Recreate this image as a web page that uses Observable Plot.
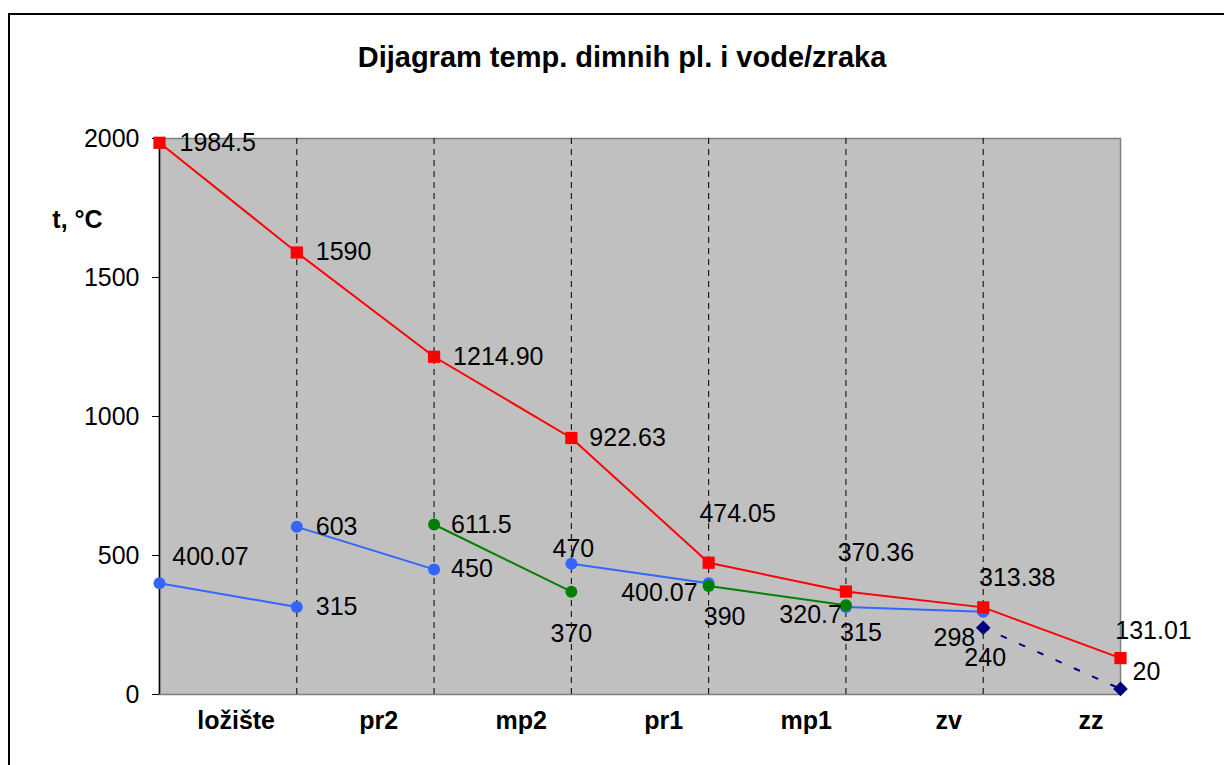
<!DOCTYPE html>
<html>
<head>
<meta charset="utf-8">
<script src="https://cdn.jsdelivr.net/npm/d3@7"></script>
<script src="https://cdn.jsdelivr.net/npm/@observablehq/plot@0.6"></script>
<style>
  html, body { margin: 0; padding: 0; background: #fff; overflow: hidden; }
  #page { position: relative; width: 1224px; height: 765px; overflow: hidden; font-family: "Liberation Sans", Arial, sans-serif; }
  #border { position: absolute; left: 8px; top: 13px; width: 1400px; height: 900px; border: 2px solid #000; box-sizing: border-box; }
  #title { position: absolute; left: 622px; top: 41px; transform: translateX(-50%); font-size: 29px; font-weight: bold; line-height: 32px; white-space: nowrap; color: #000; }
  #chart { position: absolute; left: 0; top: 0; }
</style>
</head>
<body>
<div id="page">
  <div id="border"></div>
  <div id="chart"></div>
  <div id="title">Dijagram temp. dimnih pl. i vode/zraka</div>
</div>
<script>
// ---- data ----
const categories = ["ložište", "pr2", "mp2", "pr1", "mp1", "zv", "zz"];
const yTicks = [0, 500, 1000, 1500, 2000];
const yLabel = "t, °C";

// flue gas temperatures at section boundaries 0..7
const flueGas = [1984.5, 1590, 1214.90, 922.63, 474.05, 370.36, 313.38, 131.01];
const flueGasLabels = ["1984.5", "1590", "1214.90", "922.63", "474.05", "370.36", "313.38", "131.01"];

// water/steam segments (blue): start boundary and two values
const waterStart = [0, 1, 3, 5];
const waterValues = [[400.07, 315], [603, 450], [470, 400.07], [315, 298]];

// superheated steam segments (green)
const steamStart = [2, 4];
const steamValues = [[611.5, 370], [390, 320.7]];

// air segment (navy, dashed)
const airStart = [6];
const airValues = [[240, 20]];

// ---- label placement styles (dx, dy, anchor) ----
const flueOffsets = [[20,0,"start"],[19,0,"start"],[19,0,"start"],[18,0,"start"],[29,-49,"middle"],[30,-39,"middle"],[34,-29,"middle"],[33,-27,"middle"]];
const waterOffsets = [[[51,-26,"middle"],[19,0,"start"]],[[19,0,"start"],[17,0,"start"]],[[2,-15,"middle"],[-11,10,"end"]],[[15,26,"middle"],[-8,26,"end"]]];
const steamOffsets = [[[17,0,"start"],[0,42,"middle"]],[[16,31,"middle"],[-4,10,"end"]]];
const airOffsets = [[[2,30,"middle"],[12,-17,"start"]]];

// ---- build tables ----
const flueRows = flueGas.map((v, i) => ({x: i, y: v, text: flueGasLabels[i], off: flueOffsets[i]}));
function segRows(starts, values, offsets) {
  const rows = [];
  starts.forEach((s, k) => values[k].forEach((v, j) => rows.push({seg: k, x: s + j, y: v, text: String(v), off: offsets[k][j]})));
  return rows;
}
const waterRows = segRows(waterStart, waterValues, waterOffsets);
const steamRows = segRows(steamStart, steamValues, steamOffsets);
const airRows = segRows(airStart, airValues, airOffsets);
const catRows = categories.map((c, i) => ({x: 0.558 + 1.038 * i, text: c}));
const boundaries = d3.range(1, categories.length);

const RED = "#FF0000", BLUE = "#3366FF", GREEN = "#008000", NAVY = "#000080";

const labelMarks = [...waterRows, ...steamRows, ...airRows, ...flueRows].map(r =>
  Plot.text([r], {x: "x", y: "y", text: "text", dx: r.off[0], dy: r.off[1], textAnchor: r.off[2], fill: "#000", fontSize: 25})
);

const chart = Plot.plot({
  width: 1224,
  height: 765,
  marginLeft: 159,
  marginRight: 104,
  marginTop: 138,
  marginBottom: 71,
  style: {fontFamily: "'Liberation Sans', Arial, sans-serif", fontSize: "25px", background: "transparent", color: "#000", overflow: "visible"},
  x: {domain: [0, categories.length], axis: null},
  y: {domain: [0, 2000], axis: null},
  marks: [
    Plot.frame({fill: "#C0C0C0", stroke: "#808080", strokeWidth: 1.5}),
    Plot.ruleX(boundaries, {stroke: "#000", strokeWidth: 1, strokeDasharray: "6,5"}),
    Plot.ruleX([0], {stroke: "#000", strokeWidth: 1.5}),
    Plot.axisY({ticks: yTicks, tickFormat: d => String(d), tickSize: 7, tickPadding: 13, fontSize: 25, label: null, stroke: "#000"}),
    Plot.text([yLabel], {frameAnchor: "top-left", dx: -82, dy: 72, fontWeight: "bold", fontSize: 25, textAnchor: "middle", fill: "#000"}),
    Plot.text(catRows, {x: "x", text: "text", frameAnchor: "bottom", dy: 34, fontWeight: "bold", fontSize: 25, fill: "#000"}),
    Plot.line(waterRows, {x: "x", y: "y", z: "seg", stroke: BLUE, strokeWidth: 2}),
    Plot.dot(waterRows, {x: "x", y: "y", r: 6, fill: BLUE, symbol: "circle"}),
    Plot.line(steamRows, {x: "x", y: "y", z: "seg", stroke: GREEN, strokeWidth: 2}),
    Plot.dot(steamRows, {x: "x", y: "y", r: 6, fill: GREEN, symbol: "circle"}),
    Plot.line(airRows, {x: "x", y: "y", z: "seg", stroke: NAVY, strokeWidth: 2, strokeDasharray: "5,15"}),
    Plot.dot(airRows, {x: "x", y: "y", r: 6.6, fill: NAVY, symbol: "diamond2"}),
    Plot.line(flueRows, {x: "x", y: "y", stroke: RED, strokeWidth: 2}),
    Plot.dot(flueRows, {x: "x", y: "y", r: 6.9, fill: RED, symbol: "square"}),
    ...labelMarks
  ]
});
document.getElementById("chart").appendChild(chart);
</script>
</body>
</html>
